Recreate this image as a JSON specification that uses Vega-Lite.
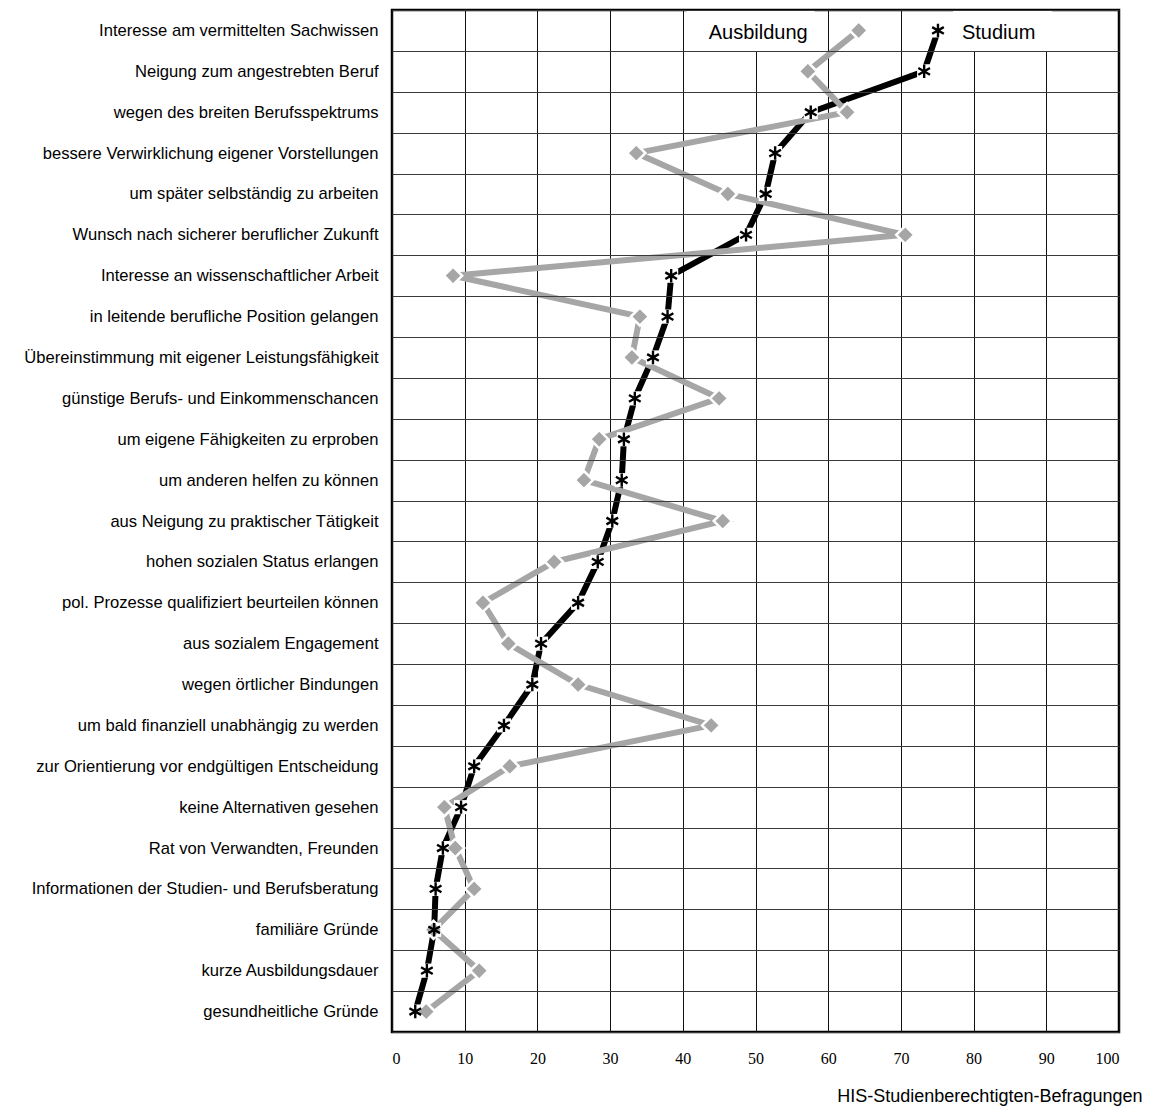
{
  "$schema": "https://vega.github.io/schema/vega-lite/v6.json",
  "width": 727,
  "height": 1022,
  "autosize": {"type": "none"},
  "padding": {"left": 392, "top": 10, "right": 41, "bottom": 80},
  "background": "white",
  "config": {
    "view": {"stroke": "black", "strokeWidth": 2.5},
    "font": "Liberation Sans"
  },
  "datasets": {
    "werte": [
      {"nr": 1, "grund": "Interesse am vermittelten Sachwissen", "Studium": 75.1, "Ausbildung": 64.2},
      {"nr": 2, "grund": "Neigung zum angestrebten Beruf", "Studium": 73.2, "Ausbildung": 57.2},
      {"nr": 3, "grund": "wegen des breiten Berufsspektrums", "Studium": 57.6, "Ausbildung": 62.6},
      {"nr": 4, "grund": "bessere Verwirklichung eigener Vorstellungen", "Studium": 52.7, "Ausbildung": 33.6},
      {"nr": 5, "grund": "um später selbständig zu arbeiten", "Studium": 51.4, "Ausbildung": 46.2},
      {"nr": 6, "grund": "Wunsch nach sicherer beruflicher Zukunft", "Studium": 48.7, "Ausbildung": 70.6},
      {"nr": 7, "grund": "Interesse an wissenschaftlicher Arbeit", "Studium": 38.4, "Ausbildung": 8.4},
      {"nr": 8, "grund": "in leitende berufliche Position gelangen", "Studium": 37.9, "Ausbildung": 34.1},
      {"nr": 9, "grund": "Übereinstimmung mit eigener Leistungsfähigkeit", "Studium": 35.9, "Ausbildung": 33.0},
      {"nr": 10, "grund": "günstige Berufs- und Einkommenschancen", "Studium": 33.4, "Ausbildung": 45.0},
      {"nr": 11, "grund": "um eigene Fähigkeiten zu erproben", "Studium": 31.9, "Ausbildung": 28.5},
      {"nr": 12, "grund": "um anderen helfen zu können", "Studium": 31.6, "Ausbildung": 26.4},
      {"nr": 13, "grund": "aus Neigung zu praktischer Tätigkeit", "Studium": 30.3, "Ausbildung": 45.5},
      {"nr": 14, "grund": "hohen sozialen Status erlangen", "Studium": 28.3, "Ausbildung": 22.3},
      {"nr": 15, "grund": "pol. Prozesse qualifiziert beurteilen können", "Studium": 25.6, "Ausbildung": 12.5},
      {"nr": 16, "grund": "aus sozialem Engagement", "Studium": 20.5, "Ausbildung": 16.0},
      {"nr": 17, "grund": "wegen örtlicher Bindungen", "Studium": 19.3, "Ausbildung": 25.6},
      {"nr": 18, "grund": "um bald finanziell unabhängig zu werden", "Studium": 15.4, "Ausbildung": 43.9},
      {"nr": 19, "grund": "zur Orientierung vor endgültigen Entscheidung", "Studium": 11.3, "Ausbildung": 16.2},
      {"nr": 20, "grund": "keine Alternativen gesehen", "Studium": 9.5, "Ausbildung": 7.2},
      {"nr": 21, "grund": "Rat von Verwandten, Freunden", "Studium": 7.0, "Ausbildung": 8.7},
      {"nr": 22, "grund": "Informationen der Studien- und Berufsberatung", "Studium": 6.0, "Ausbildung": 11.3},
      {"nr": 23, "grund": "familiäre Gründe", "Studium": 5.8, "Ausbildung": 5.7},
      {"nr": 24, "grund": "kurze Ausbildungsdauer", "Studium": 4.8, "Ausbildung": 12.0},
      {"nr": 25, "grund": "gesundheitliche Gründe", "Studium": 3.2, "Ausbildung": 4.7}
    ]
  },
  "data": {"name": "werte"},
  "encoding": {
    "y": {
      "field": "grund",
      "type": "nominal",
      "sort": {"field": "nr", "op": "min"},
      "scale": {"type": "band", "paddingInner": 0, "paddingOuter": 0},
      "axis": {
        "title": null,
        "ticks": false,
        "domain": false,
        "tickBand": "extent",
        "grid": true,
        "gridColor": "#3a3a3a",
        "gridWidth": 1,
        "labelFont": "Liberation Sans",
        "labelFontSize": 16.6,
        "labelColor": "black",
        "labelPadding": 14,
        "labelLimit": 400
      }
    }
  },
  "layer": [
    {
      "mark": {"type": "rect", "fill": "white", "xOffset": -172, "x2Offset": -44},
      "transform": [{"filter": "datum.nr == 1"}],
      "encoding": {
        "x": {
          "field": "Ausbildung",
          "type": "quantitative",
          "scale": {"domain": [0, 100], "nice": false},
          "axis": {
            "values": [0, 5, 10, 15, 20, 25, 30, 35, 40, 45, 50, 55, 60, 65, 70, 75, 80, 85, 90, 95, 100],
            "labelExpr": "datum.value % 10 == 0 ? datum.label : ''",
            "grid": true,
            "gridColor": {"condition": {"test": "datum.value % 10 == 0", "value": "#111111"}, "value": "#555555"},
            "gridWidth": 1,
            "ticks": false,
            "domain": false,
            "labelFont": "Liberation Serif",
            "labelFontSize": 16,
            "labelColor": "black",
            "labelPadding": 18,
            "title": "HIS-Studienberechtigten-Befragungen",
            "titleFont": "Liberation Sans",
            "titleFontSize": 18,
            "titleFontWeight": "normal",
            "titleColor": "black",
            "titleX": 750,
            "titleY": 64,
            "titleAlign": "right",
            "titleBaseline": "middle"
          }
        },
        "x2": {"field": "Ausbildung"}
      }
    },
    {
      "mark": {"type": "rect", "fill": "white", "xOffset": 15, "x2Offset": 114},
      "transform": [{"filter": "datum.nr == 1"}],
      "encoding": {
        "x": {"field": "Studium", "type": "quantitative"},
        "x2": {"field": "Studium"}
      }
    },
    {
      "mark": {"type": "line", "color": "black", "strokeWidth": 6},
      "encoding": {
        "x": {"field": "Studium", "type": "quantitative"},
        "order": {"field": "nr", "type": "quantitative"}
      }
    },
    {
      "mark": {"type": "line", "color": "#a6a6a6", "strokeWidth": 6},
      "encoding": {
        "x": {"field": "Ausbildung", "type": "quantitative"},
        "order": {"field": "nr", "type": "quantitative"}
      }
    },
    {
      "mark": {"type": "point", "shape": "square", "filled": true, "color": "white", "size": 200, "opacity": 1},
      "encoding": {"x": {"field": "Studium", "type": "quantitative"}}
    },
    {
      "mark": {"type": "point", "shape": "diamond", "filled": true, "fill": "#a6a6a6", "stroke": "white", "strokeWidth": 2.5, "size": 330, "opacity": 1},
      "encoding": {"x": {"field": "Ausbildung", "type": "quantitative"}}
    },
    {
      "mark": {"type": "point", "shape": "M0,-1V1M-0.87,-0.5L0.87,0.5M-0.87,0.5L0.87,-0.5", "filled": false, "stroke": "black", "strokeWidth": 2.4, "size": 180, "opacity": 1},
      "encoding": {"x": {"field": "Studium", "type": "quantitative"}}
    },
    {
      "mark": {"type": "text", "text": "Ausbildung", "align": "right", "baseline": "middle", "dx": -51, "dy": 3, "fontSize": 20, "font": "Liberation Sans", "color": "black"},
      "transform": [{"filter": "datum.nr == 1"}],
      "encoding": {"x": {"field": "Ausbildung", "type": "quantitative"}}
    },
    {
      "mark": {"type": "text", "text": "Studium", "align": "left", "baseline": "middle", "dx": 24, "dy": 3, "fontSize": 20, "font": "Liberation Sans", "color": "black"},
      "transform": [{"filter": "datum.nr == 1"}],
      "encoding": {"x": {"field": "Studium", "type": "quantitative"}}
    }
  ]
}
